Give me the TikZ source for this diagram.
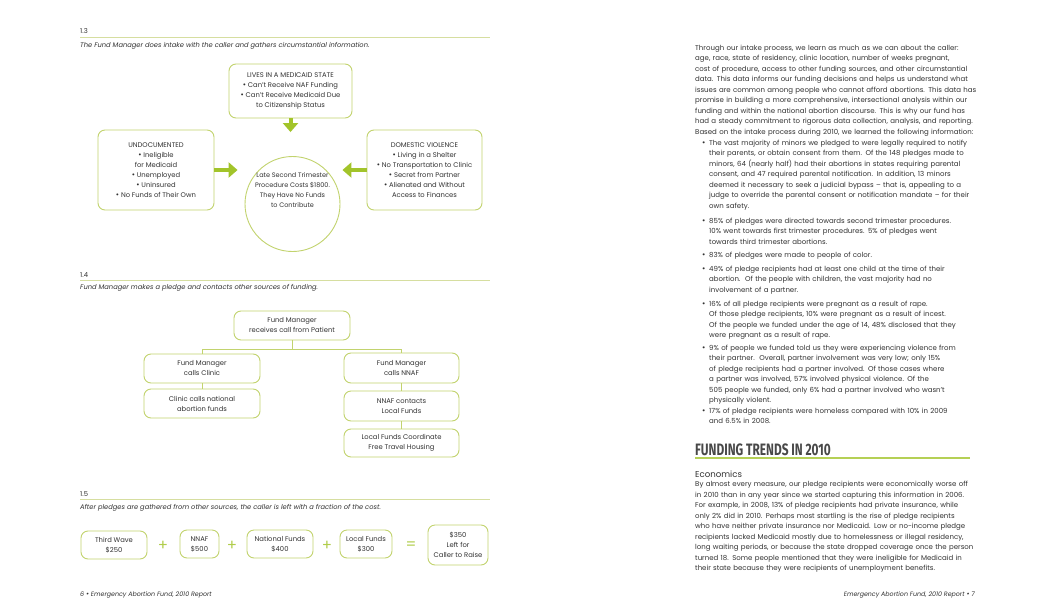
\documentclass[tikz,border=0pt]{standalone}
\usepackage{fontspec}
\usepackage{graphicx}
\setmainfont{Poppins}
\newfontfamily\hdfont{Fira Sans}
\usetikzlibrary{arrows.meta,calc}
\definecolor{boxc}{RGB}{194,211,110}
\definecolor{arrc}{RGB}{162,196,42}
\definecolor{txtc}{RGB}{50,50,50}
\definecolor{hdc}{RGB}{72,72,72}
\definecolor{rulec}{RGB}{214,222,160}
\newcommand\rfont{\fontsize{7}{10.5}\selectfont}
\newcommand\bxfont{\fontsize{6.8}{10}\selectfont}
\newcommand\capfont{\fontsize{6.7}{8}\selectfont\itshape}
\newcommand\sbul{\scalebox{1.15}{\textbullet}}
\begin{document}
\begin{tikzpicture}[x=1pt,y=-1pt,
  every node/.style={text=txtc},
  rbox/.style={draw=boxc, line width=0.9pt, rounded corners=7pt, align=center, inner sep=0pt, font=\bxfont},
  bigarrow/.style={draw=arrc, line width=4pt, -{Triangle[length=9pt,width=15pt]}},
  thinline/.style={draw=boxc, line width=0.9pt},
  secrule/.style={draw=rulec, line width=1pt},
  para/.style={anchor=base west, inner sep=0pt, align=left, text width=300pt, font=\rfont},
  bul/.style={anchor=base west, inner sep=0pt, font=\rfont},
  op/.style={text=arrc!85!white, font=\fontsize{15}{15}\selectfont, inner sep=0pt}]
\useasboundingbox[fill=white] (0,0) rectangle (1052,613);

% ---------- 1.3 ----------
\node[anchor=base west, inner sep=0pt, font=\fontsize{6.8}{8}\selectfont] (l13) at (80,33) {1.3};
\draw[secrule] (80,37) coordinate (r13a) -- (490,37) coordinate (r13b);
\node[anchor=base west, inner sep=0pt, font=\capfont] (c13) at (80,47) {The Fund Manager does intake with the caller and gathers circumstantial information.};

\node[rbox, minimum width=123pt, minimum height=54pt] (top) at (290.5,91)
 {LIVES IN A MEDICAID STATE\\ \sbul\ Can't Receive NAF Funding\\ \sbul\ Can't Receive Medicaid Due\\ to Citizenship Status};
\node[rbox, minimum width=116pt, minimum height=80pt] (lbox) at (156,170)
 {UNDOCUMENTED\\ \sbul\ Ineligible\\ for Medicaid\\ \sbul\ Unemployed\\ \sbul\ Uninsured\\ \sbul\ No Funds of Their Own};
\node[rbox, minimum width=115pt, minimum height=80pt] (rbox) at (424.5,170)
 {DOMESTIC VIOLENCE\\ \sbul\ Living in a Shelter\\ \sbul\ No Transportation to Clinic\\ \sbul\ Secret from Partner\\ \sbul\ Alienated and Without\\ Access to Finances};
\node[draw=boxc, line width=0.9pt, circle, minimum size=95pt, inner sep=0pt] (circ) at (292.5,204) {};
\node[align=center, inner sep=0pt, font=\fontsize{6.5}{10}\selectfont] (circt) at (292.5,190)
 {Late Second Trimester\\ Procedure Costs \$1800.\\ They Have No Funds\\ to Contribute};

\draw[bigarrow, shorten >=24pt] (top.south) -- (top.south |- circ.north);
\draw[bigarrow, shorten >=7pt] (lbox.east) -- (lbox.east -| circ.west);
\draw[bigarrow, shorten >=2pt] (rbox.west) -- (rbox.west -| circ.east);

% ---------- 1.4 ----------
\node[anchor=base west, inner sep=0pt, font=\fontsize{6.8}{8}\selectfont] (l14) at (80,277) {1.4};
\draw[secrule] (80,280) coordinate (r14a) -- (490,280) coordinate (r14b);
\node[anchor=base west, inner sep=0pt, font=\capfont] (c14) at (80,289) {Fund Manager makes a pledge and contacts other sources of funding.};

\node[rbox, minimum width=116pt, minimum height=29pt] (fm) at (292,325.5) {Fund Manager\\ receives call from Patient};
\node[rbox, minimum width=116pt, minimum height=29pt] (lb1) at (202,368.5) {Fund Manager\\ calls Clinic};
\node[rbox, minimum width=116pt, minimum height=29pt] (lb2) at (202,403.5) {Clinic calls national\\ abortion funds};
\node[rbox, minimum width=115pt, minimum height=30pt] (rb1) at (401.5,368) {Fund Manager\\ calls NNAF};
\node[rbox, minimum width=115pt, minimum height=30pt] (rb2) at (401.5,406) {NNAF contacts\\ Local Funds};
\node[rbox, minimum width=115pt, minimum height=28pt] (rb3) at (401.5,443) {Local Funds Coordinate\\ Free Travel Housing};
\coordinate (split) at (292,349);
\draw[thinline] (fm.south) -- (split);
\draw[thinline] (lb1.north) |- (split);
\draw[thinline] (rb1.north) |- (split);
\draw[thinline] (lb1.south) -- (lb2.north);
\draw[thinline] (rb1.south) -- (rb2.north);
\draw[thinline] (rb2.south) -- (rb3.north);

% ---------- 1.5 ----------
\node[anchor=base west, inner sep=0pt, font=\fontsize{6.8}{8}\selectfont] (l15) at (80,496) {1.5};
\draw[secrule] (80,499.5) coordinate (r15a) -- (490,499.5) coordinate (r15b);
\node[anchor=base west, inner sep=0pt, font=\capfont] (c15) at (80,509) {After pledges are gathered from other sources, the caller is left with a fraction of the cost.};

\node[rbox, minimum width=66pt, minimum height=28pt] (tw) at (114,545) {Third Wave\\ \$250};
\node[rbox, minimum width=39pt, minimum height=28pt] (nn) at (199.5,544) {NNAF\\ \$500};
\node[rbox, minimum width=66pt, minimum height=28pt] (nf) at (280,544) {National Funds\\ \$400};
\node[rbox, minimum width=52pt, minimum height=28pt] (lf) at (366,544) {Local Funds\\ \$300};
\node[rbox, minimum width=60pt, minimum height=40pt] (res) at (458,545) {\$350\\ Left for\\ Caller to Raise};
\node[op] (p1) at (163,546) {+};
\node[op] (p2) at (232,546) {+};
\node[op] (p3) at (327,546) {+};
\node[op] (eq) at (411,546) {=};

% footers
\node[anchor=base west, inner sep=0pt, font=\fontsize{6.3}{8}\selectfont\itshape] (f6) at (80,596) {6 \sbul\ Emergency Abortion Fund, 2010 Report};
\node[anchor=base east, inner sep=0pt, font=\fontsize{6.3}{8}\selectfont\itshape] (f7) at (975,596) {Emergency Abortion Fund, 2010 Report \sbul\ 7};

% ---------- right page ----------
\node[para] (p1t) at (695,50) {Through our intake process, we learn as much as we can about the caller:\\
age, race, state of residency, clinic location, number of weeks pregnant,\\
cost of procedure, access to other funding sources, and other circumstantial\\
data. This data informs our funding decisions and helps us understand what\\
issues are common among people who cannot afford abortions. This data has\\
promise in building a more comprehensive, intersectional analysis within our\\
funding and within the national abortion discourse. This is why our fund has\\
had a steady commitment to rigorous data collection, analysis, and reporting.};
\node[para] (p2t) at (695,134) {Based on the intake process during 2010, we learned the following information:};

\node[bul] (b1) at (702,145) {\sbul};
\node[para] (t1) at (709,145) {The vast majority of minors we pledged to were legally required to notify\\
their parents, or obtain consent from them. Of the 148 pledges made to\\
minors, 64 (nearly half) had their abortions in states requiring parental\\
consent, and 47 required parental notification. In addition, 13 minors\\
deemed it necessary to seek a judicial bypass -- that is, appealing to a\\
judge to override the parental consent or notification mandate -- for their\\
own safety.};
\node[bul] (b2) at (702,223) {\sbul};
\node[para] (t2) at (709,223) {85\% of pledges were directed towards second trimester procedures.\\
10\% went towards first trimester procedures. 5\% of pledges went\\
towards third trimester abortions.};
\node[bul] (b3) at (702,257) {\sbul};
\node[para] (t3) at (709,257) {83\% of pledges were made to people of color.};
\node[bul] (b4) at (702,271) {\sbul};
\node[para] (t4) at (709,271) {49\% of pledge recipients had at least one child at the time of their\\
abortion.\ \ Of the people with children, the vast majority had no\\
involvement of a partner.};
\node[bul] (b5) at (702,306) {\sbul};
\node[para] (t5) at (709,306) {16\% of all pledge recipients were pregnant as a result of rape.\\
Of those pledge recipients, 10\% were pregnant as a result of incest.\\
Of the people we funded under the age of 14, 48\% disclosed that they\\
were pregnant as a result of rape.};
\node[bul] (b6) at (702,350) {\sbul};
\node[para] (t6) at (709,350) {9\% of people we funded told us they were experiencing violence from\\
their partner.\ \ Overall, partner involvement was very low; only 15\%\\
of pledge recipients had a partner involved. Of those cases where\\
a partner was involved, 57\% involved physical violence. Of the\\
505 people we funded, only 6\% had a partner involved who wasn't\\
physically violent.};
\node[bul] (b7) at (702,413) {\sbul};
\node[para] (t7) at (709,413) {17\% of pledge recipients were homeless compared with 10\% in 2009\\
and 6.5\% in 2008.};

\node[anchor=base west, inner sep=0pt, text=hdc, font=\hdfont\bfseries\fontsize{16.5}{18}\selectfont] (hd) at (695,455) {\scalebox{0.72}[1]{FUNDING TRENDS IN 2010}};
\draw[draw=arrc!80!white, line width=1.1pt] (695,458) coordinate (hra) -- (970,458) coordinate (hrb);
\node[anchor=base west, inner sep=0pt, font=\fontsize{8.6}{10}\selectfont] (eco) at (695,477) {Economics};
\node[para] (p3t) at (695,486.5) {By almost every measure, our pledge recipients were economically worse off\\
in 2010 than in any year since we started capturing this information in 2006.\\
For example, in 2008, 13\% of pledge recipients had private insurance, while\\
only 2\% did in 2010. Perhaps most startling is the rise of pledge recipients\\
who have neither private insurance nor Medicaid. Low or no-income pledge\\
recipients lacked Medicaid mostly due to homelessness or illegal residency,\\
long waiting periods, or because the state dropped coverage once the person\\
turned 18. Some people mentioned that they were ineligible for Medicaid in\\
their state because they were recipients of unemployment benefits.};
\end{tikzpicture}
\end{document}
